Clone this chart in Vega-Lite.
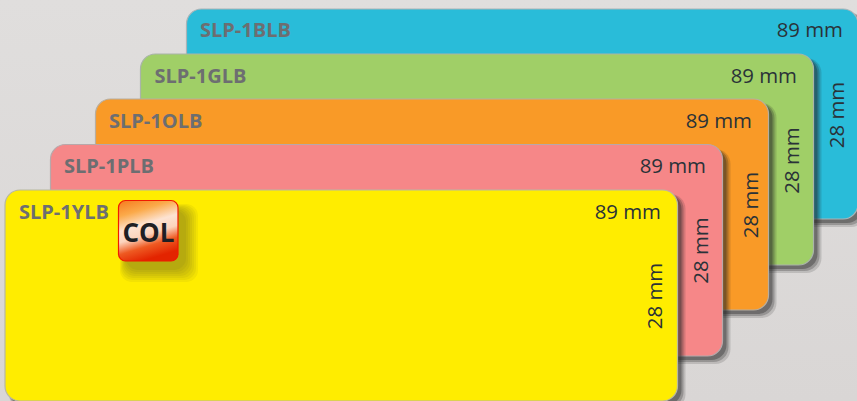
{
"$schema":"https://vega.github.io/schema/vega-lite/v6.json",
"width":857,"height":401,"padding":0,"autosize":{"type":"none"},"background":"#dddbda",
"config":{"view":{"stroke":null}},
"datasets":{
"page":[{"left":0,"right":857,"top":0,"bottom":401}],
"cards":[
{"part":"shadow outer","left":190,"right":866,"top":13,"bottom":227},
{"part":"shadow middle","left":190,"right":864,"top":13,"bottom":225},
{"part":"shadow inner","left":190,"right":862,"top":13,"bottom":223},
{"part":"blue","left":186.5,"right":858,"top":9,"bottom":219},
{"part":"shadow outer","left":145,"right":821.5,"top":58,"bottom":273},
{"part":"shadow middle","left":145,"right":819.5,"top":58,"bottom":271},
{"part":"shadow inner","left":145,"right":817.5,"top":58,"bottom":269},
{"part":"green","left":140.5,"right":813.5,"top":54,"bottom":265},
{"part":"shadow outer","left":100,"right":776.5,"top":103,"bottom":318},
{"part":"shadow middle","left":100,"right":774.5,"top":103,"bottom":316},
{"part":"shadow inner","left":100,"right":772.5,"top":103,"bottom":314},
{"part":"orange","left":95.5,"right":768.5,"top":99,"bottom":310},
{"part":"shadow outer","left":54,"right":730.5,"top":149,"bottom":364},
{"part":"shadow middle","left":54,"right":728.5,"top":149,"bottom":362},
{"part":"shadow inner","left":54,"right":726.5,"top":149,"bottom":360},
{"part":"pink","left":50.5,"right":722.5,"top":144.5,"bottom":356},
{"part":"shadow outer","left":9,"right":685.5,"top":194,"bottom":409},
{"part":"shadow middle","left":9,"right":683.5,"top":194,"bottom":407},
{"part":"shadow inner","left":9,"right":681.5,"top":194,"bottom":405},
{"part":"yellow","left":5,"right":677.5,"top":190,"bottom":401}
],
"badgeShadow":[
{"left":120,"right":198,"top":204,"bottom":282},
{"left":121,"right":196,"top":205,"bottom":280},
{"left":122,"right":194,"top":206,"bottom":278},
{"left":123,"right":192,"top":207,"bottom":276},
{"left":124,"right":190,"top":208,"bottom":274},
{"left":125,"right":188,"top":209,"bottom":272},
{"left":126,"right":186,"top":210,"bottom":270}
],
"badge":[{"left":118.5,"right":178,"top":200.5,"bottom":261}],
"names":[
{"label":"SLP-1BLB","x":200,"y":31},
{"label":"SLP-1GLB","x":154.5,"y":76.5},
{"label":"SLP-1OLB","x":109,"y":122},
{"label":"SLP-1PLB","x":64,"y":167},
{"label":"SLP-1YLB","x":19,"y":213}
],
"widths":[
{"label":"89 mm","x":843,"y":31},
{"label":"89 mm","x":797,"y":76.5},
{"label":"89 mm","x":752,"y":122},
{"label":"89 mm","x":706,"y":167},
{"label":"89 mm","x":661,"y":213}
],
"heights":[
{"label":"28 mm","x":838,"y":115},
{"label":"28 mm","x":793,"y":160.5},
{"label":"28 mm","x":752,"y":205},
{"label":"28 mm","x":702,"y":250.5},
{"label":"28 mm","x":656,"y":296}
],
"tag":[{"label":"COL","x":148.5,"y":233.5}]
},
"layer":[
{"data":{"name":"page"},
 "mark":{"type":"rect","color":{"gradient":"linear","x1":0,"y1":0,"x2":0,"y2":1,"stops":[{"offset":0,"color":"#e0dedd"},{"offset":1,"color":"#d9d6d5"}]}},
 "encoding":{
  "x":{"field":"left","type":"quantitative","scale":{"domain":[0,857],"nice":false,"zero":false},"axis":null},
  "x2":{"field":"right"},
  "y":{"field":"top","type":"quantitative","scale":{"domain":[401,0],"nice":false,"zero":false},"axis":null},
  "y2":{"field":"bottom"}}},
{"data":{"name":"cards"},
 "mark":{"type":"rect","cornerRadius":15,"clip":true},
 "encoding":{
  "x":{"field":"left","type":"quantitative"},
  "x2":{"field":"right"},
  "y":{"field":"top","type":"quantitative"},
  "y2":{"field":"bottom"},
  "color":{"field":"part","type":"nominal","legend":null,"scale":{
    "domain":["shadow outer","shadow middle","shadow inner","blue","green","orange","pink","yellow"],
    "range":["rgba(40,40,40,0.16)","rgba(40,40,40,0.26)","rgba(40,40,40,0.36)","#29bcd9","#a0cf67","#f99a27","#f68788","#ffed00"]}},
  "stroke":{"field":"part","type":"nominal","legend":null,"scale":{
    "domain":["shadow outer","shadow middle","shadow inner","blue","green","orange","pink","yellow"],
    "range":["transparent","transparent","transparent","#a9b4b8","#a9b4a8","#b8aea0","#b8a8aa","#b8b8a0"]}},
  "strokeWidth":{"value":1.2}}},
{"data":{"name":"badgeShadow"},
 "mark":{"type":"rect","cornerRadius":12,"color":"#3a3a3a","opacity":0.06},
 "encoding":{
  "x":{"field":"left","type":"quantitative"},"x2":{"field":"right"},
  "y":{"field":"top","type":"quantitative"},"y2":{"field":"bottom"}}},
{"data":{"name":"badge"},
 "mark":{"type":"rect","cornerRadius":7,"stroke":"#f01a00","strokeWidth":1.2,
  "fill":{"gradient":"linear","x1":0.1,"y1":0,"x2":0.4,"y2":1,"stops":[
   {"offset":0,"color":"#f67f22"},{"offset":0.22,"color":"#fbaa4a"},{"offset":0.45,"color":"#fde3d2"},{"offset":0.62,"color":"#fcd4bd"},{"offset":0.8,"color":"#ee5a22"},{"offset":1,"color":"#e32400"}]}},
 "encoding":{
  "x":{"field":"left","type":"quantitative"},"x2":{"field":"right"},
  "y":{"field":"top","type":"quantitative"},"y2":{"field":"bottom"}}},
{"data":{"name":"names"},
 "mark":{"type":"text","font":"Open Sans","fontWeight":"bold","fontSize":20,"color":"#6d6e71","align":"left","baseline":"middle"},
 "encoding":{"x":{"field":"x","type":"quantitative"},"y":{"field":"y","type":"quantitative"},"text":{"field":"label"}}},
{"data":{"name":"widths"},
 "mark":{"type":"text","font":"Open Sans","fontSize":20.4,"color":"#2a3238","align":"right","baseline":"middle"},
 "encoding":{"x":{"field":"x","type":"quantitative"},"y":{"field":"y","type":"quantitative"},"text":{"field":"label"}}},
{"data":{"name":"heights"},
 "mark":{"type":"text","font":"Open Sans","fontSize":20.4,"color":"#2a3238","align":"center","baseline":"middle","angle":270},
 "encoding":{"x":{"field":"x","type":"quantitative"},"y":{"field":"y","type":"quantitative"},"text":{"field":"label"}}},
{"data":{"name":"tag"},
 "mark":{"type":"text","font":"Open Sans","fontWeight":"bold","fontSize":26,"color":"#1f1f24","align":"center","baseline":"middle"},
 "encoding":{"x":{"field":"x","type":"quantitative"},"y":{"field":"y","type":"quantitative"},"text":{"field":"label"}}}
]
}
